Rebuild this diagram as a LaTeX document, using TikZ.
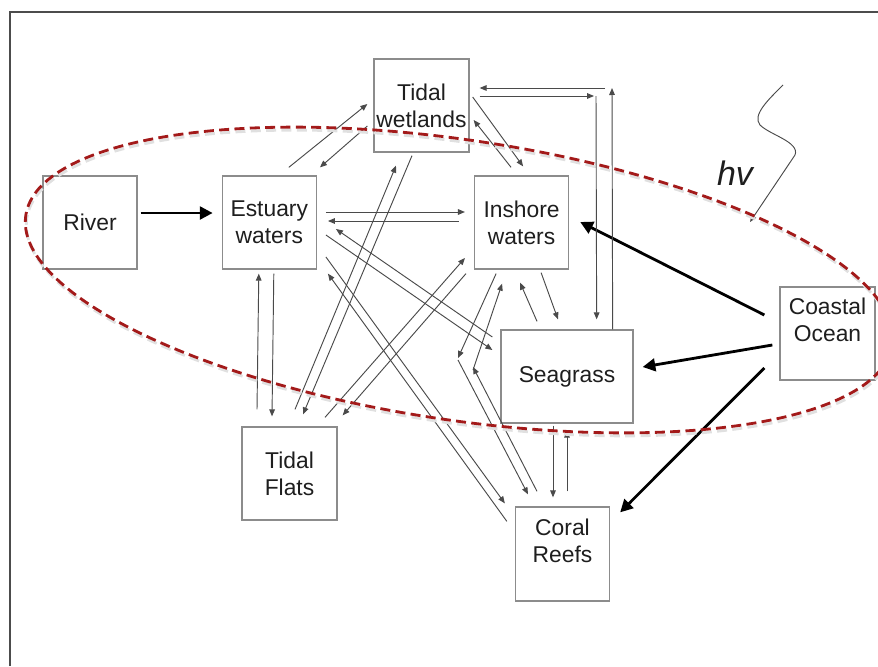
\documentclass[tikz,border=0pt]{standalone}
\usepackage{fontspec}
\setmainfont{Liberation Sans}
\usepackage{tikz}
\usetikzlibrary{arrows.meta, positioning, calc}
\definecolor{ringred}{HTML}{A31A1A}
\definecolor{boxgray}{HTML}{8C8C8C}
\definecolor{linkgray}{HTML}{4A4A4A}
\definecolor{textgray}{HTML}{1E1E1E}

\begin{document}
\begin{tikzpicture}[
  x=0.03cm, y=-0.03cm,
  box/.style={rectangle, draw=boxgray, line width=1.1pt, inner sep=0pt, minimum width=2.82cm, minimum height=2.79cm, align=center, text=textgray, font=\fontsize{19.5}{23}\selectfont},
  link/.style={-{Triangle[length=0.21cm, width=0.17cm]}, draw=linkgray, line width=0.8pt},
  flow/.style={-{Triangle[length=0.38cm, width=0.38cm]}, black, line width=2.4pt},
  ring/.style={draw=ringred, line width=2.4pt, dash pattern=on 0.3cm off 0.16cm}
]
  \useasboundingbox (0,0) rectangle (878,666);
  \draw[black!70, line width=1.7pt] (10,666) -- (10,12) -- (878,12);

  \node[box] (river) at (90,222.5) {River};
  \node[box, right=2.52cm of river] (estuary) {Estuary\\waters};
  \node[box, right=4.71cm of estuary] (inshore) {Inshore\\waters};
  \node[box, minimum width=2.85cm] (wetlands) at (421.5,105.5) {Tidal\\wetlands};
  \node[box, minimum width=3.96cm] (seagrass) at (567,376.5) {Seagrass};
  \node[box, minimum width=2.85cm] (flats) at (289.5,473.5) {Tidal\\Flats};
  \node[box, minimum height=2.82cm] (coral) at (562.5,554) {Coral\\Reefs\\\mbox{}};
  \node[box, minimum width=2.85cm] (ocean) at (827.5,333.5) {Coastal\\Ocean\\\mbox{}};

  \draw[flow] ($(river.east)+(3,-9.5)$) -- ($(estuary.west)+(-9,-9.5)$);
  \draw[flow] ($(ocean.west)+(-15,-18.5)$) -- ($(inshore.east)+(11,-0.5)$);
  \draw[flow] ($(ocean.west)+(-7,11.5)$) -- ($(seagrass.east)+(9,-9.5)$);
  \draw[flow] ($(ocean.west)+(-15,34.5)$) -- ($(coral.north east)+(10,6)$);

  \draw[link] ($(estuary.north)+(19.5,-8)$) -- ($(wetlands.west)+(-6,-1.5)$);
  \draw[link] ($(wetlands.west)+(-6,20.5)$) -- ($(estuary.north east)+(3,-8)$);
  \draw[link] ($(estuary.east)+(9,-10.5)$) -- ($(inshore.west)+(-9,-10.5)$);
  \draw[link] ($(inshore.west)+(-15,-1.5)$) -- ($(estuary.east)+(11,-1.5)$);
  \draw[link] ($(flats.north)+(-32.5,-17)$) -- ($(estuary.south)+(-10.5,4)$);
  \draw[link] ($(estuary.south)+(4.5,4)$) -- ($(flats.north)+(-17.5,-10)$);
  \draw[link] ($(flats.north)+(5.5,-17)$) -- ($(wetlands.south)+(-25.5,13)$);
  \draw[link] ($(wetlands.south)+(-9.5,3)$) -- ($(flats.north)+(13.5,-12)$);
  \draw[link] ($(flats.north)+(35.5,-9)$) -- ($(inshore.west)+(-9,35.5)$);
  \draw[link] ($(inshore.south west)+(-8,4)$) -- ($(flats.north east)+(5,-11)$);
  \draw[link] ($(estuary.east)+(9,12.5)$) -- ($(seagrass.west)+(-8,-26.5)$);
  \draw[link] ($(seagrass.west)+(-8,-39.5)$) -- ($(estuary.east)+(19,6.5)$);
  \draw[link] ($(estuary.east)+(9,34.5)$) -- ($(coral.north west)+(-10,-3)$);
  \draw[link] ($(coral.north west)+(-8,15)$) -- ($(estuary.south east)+(11,4)$);
  \draw[link] ($(wetlands.east)+(3,-8.5)$) -- ($(inshore.north)+(1.5,-9)$);
  \draw[link] ($(inshore.north)+(-10.5,-8)$) -- ($(wetlands.east)+(4,14.5)$);
  \draw[link] ($(inshore.south)+(19.5,3)$) -- ($(seagrass.north)+(-9,-10)$);
  \draw[link] ($(seagrass.north)+(-30,-8)$) -- ($(inshore.south)+(-1.5,13)$);
  \draw[link] ($(seagrass.south)+(-14,2)$) -- ($(coral.north)+(-9.5,-9)$);
  \draw[link] ($(coral.north)+(4.5,-15)$) -- ($(seagrass.south)+(0,7)$);

  \coordinate (cornerin) at (596,96);
  \coordinate (cornerout) at (612,88);
  \coordinate (kneeout) at (458,358);
  \coordinate (kneein) at (473,367);
  \draw[link] ($(wetlands.east)+(10,-9.5)$) -- ($(cornerin)+(-2,0)$);
  \draw[link] (cornerin) -- ($(seagrass.north east)+(-37,-10)$);
  \draw[link] ($(seagrass.north east)+(-21,0)$) -- (cornerout);
  \draw[link] ($(cornerout)+(-7,0)$) -- ($(wetlands.east)+(10,-17.5)$);
  \draw[link] ($(inshore.south)+(-25.5,4)$) -- (kneeout);
  \draw[link] ($(kneeout)+(0,2)$) -- ($(coral.north)+(-34.5,-12)$);
  \draw[link] ($(coral.north)+(-25.5,-15)$) -- (kneein);
  \draw[link] ($(kneein)+(0,3)$) -- ($(inshore.south)+(-19.5,14)$);

  \coordinate (hvtop) at (783,85);
  \coordinate (hvtip) at (750,222);
  \draw[link] (hvtop) .. controls (768,100) and (752,115) .. (760,125) .. controls (770,135) and (800,142) .. (795,155) -- (hvtip);
  \node[font=\fontsize{29}{34}\selectfont\itshape, text=textgray, anchor=base] (hv) at (735,185) {hv};

  \draw[ring, black!12, shift={(1,3)}, rotate around={-8.5:(459,280)}] (459,280) ellipse [x radius=13.14cm, y radius=4.2cm];
  \draw[ring, rotate around={-8.5:(459,280)}] (459,280) ellipse [x radius=13.14cm, y radius=4.2cm];
\end{tikzpicture}
\end{document}
